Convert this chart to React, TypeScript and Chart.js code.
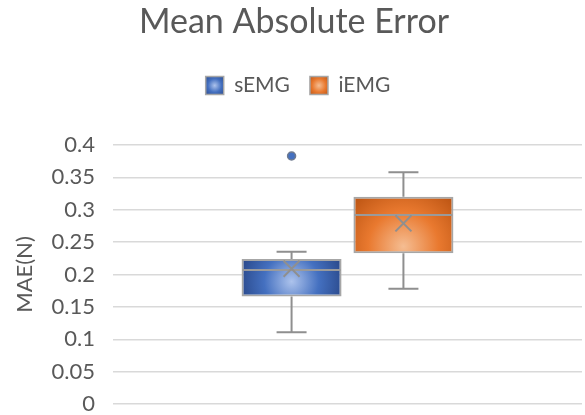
import { useEffect, useRef } from "react";
import { Chart, registerables } from "chart.js";

Chart.register(...registerables);

// Box-and-whisker summary per series
const categories = [""];
const seriesNames = ["sEMG", "iEMG"];
const whiskerLow = [0.111, 0.178];
const quartile1 = [0.166, 0.233];
const medians = [0.207, 0.292];
const quartile3 = [0.224, 0.32];
const whiskerHigh = [0.235, 0.358];
const means = [0.209, 0.279];
const outliers: number[][] = [[0.383], []];

const yTicks = [0, 0.05, 0.1, 0.15, 0.2, 0.25, 0.3, 0.35, 0.4];
const yTickLabels = ["0", "0.05", "0.1", "0.15", "0.2", "0.25", "0.3", "0.35", "0.4"];

const palette = [
  { light: "#adc3ec", mid: "#4470c0", edge: "#284687", focusY: 0.6 },
  { light: "#f5bd92", mid: "#e9792f", edge: "#b95211", focusY: 0.88 },
];

const FONT = "Lato, 'Open Sans', sans-serif";
const TEXT = "#595959";
const GRID = "#d9d9d9";
const LINE = "#8f8f8f";

// where the legend row starts, measured from the top of the canvas
const LEGEND_TOP = 55;

function radial(ctx: CanvasRenderingContext2D, cx: number, cy: number, r: number, p: typeof palette[number]) {
  const g = ctx.createRadialGradient(cx, cy, 0, cx, cy, r);
  g.addColorStop(0, p.light);
  g.addColorStop(0.5, p.mid);
  g.addColorStop(1, p.edge);
  return g;
}

const boxPlotPlugin = {
  id: "boxPlotDetails",
  afterLayout(chart: any) {
    // keep the heading and legend near the top, leaving a gap above the plot
    const legend = chart.legend;
    const title = chart.titleBlock;
    const dy = legend ? legend.top - LEGEND_TOP : 0;
    const move = (box: any, dx: number) => {
      if (!box) return;
      box.left += dx;
      box.right += dx;
      box.top -= dy;
      box.bottom -= dy;
    };
    move(title, 3);
    move(legend, 7);
  },
  beforeDraw(chart: any) {
    const ctx = chart.ctx as CanvasRenderingContext2D;
    // gradient legend swatches
    const legend = chart.legend;
    if (legend && legend.legendItems && legend.legendHitBoxes) {
      const bw = legend.options.labels.boxWidth;
      legend.legendItems.forEach((item: any, i: number) => {
        const hb = legend.legendHitBoxes[i];
        if (!hb) return;
        const cx = hb.left + bw / 2;
        const cy = hb.top + hb.height / 2;
        item.fillStyle = radial(ctx, cx, cy, bw * 0.75, palette[i]);
      });
    }
  },
  beforeDatasetsDraw(chart: any) {
    const ctx = chart.ctx as CanvasRenderingContext2D;
    chart.data.datasets.forEach((_ds: any, i: number) => {
      const meta = chart.getDatasetMeta(i);
      meta.data.forEach((el: any) => {
        const { x, y, base, width } = el.getProps(["x", "y", "base", "width"], true);
        const top = Math.min(y, base);
        const h = Math.abs(base - y);
        const p = palette[i];
        const cy = top + h * p.focusY;
        const r = Math.hypot(width / 2, Math.max(cy - top, top + h - cy));
        el.options = { ...el.options, backgroundColor: radial(ctx, x, cy, r, p) };
      });
    });
  },
  afterDatasetsDraw(chart: any) {
    const ctx = chart.ctx as CanvasRenderingContext2D;
    const ys = chart.scales.y;
    chart.data.datasets.forEach((_ds: any, i: number) => {
      const meta = chart.getDatasetMeta(i);
      meta.data.forEach((el: any) => {
        const { x, width } = el.getProps(["x", "width"], true);
        const cap = width * 0.3;
        const yLo = ys.getPixelForValue(whiskerLow[i]);
        const yQ1 = ys.getPixelForValue(quartile1[i]);
        const yQ3 = ys.getPixelForValue(quartile3[i]);
        const yHi = ys.getPixelForValue(whiskerHigh[i]);
        const yMed = ys.getPixelForValue(medians[i]);
        const yMean = ys.getPixelForValue(means[i]);
        ctx.save();
        ctx.strokeStyle = LINE;
        ctx.lineWidth = 2;
        ctx.beginPath();
        // whiskers and caps
        ctx.moveTo(x, yQ3);
        ctx.lineTo(x, yHi);
        ctx.moveTo(x - cap / 2, yHi);
        ctx.lineTo(x + cap / 2, yHi);
        ctx.moveTo(x, yQ1);
        ctx.lineTo(x, yLo);
        ctx.moveTo(x - cap / 2, yLo);
        ctx.lineTo(x + cap / 2, yLo);
        ctx.stroke();
        // median
        ctx.strokeStyle = "#9a9a9a";
        ctx.beginPath();
        ctx.moveTo(x - width / 2 + 1, yMed);
        ctx.lineTo(x + width / 2 - 1, yMed);
        ctx.stroke();
        // mean marker
        const m = 8;
        ctx.strokeStyle = LINE;
        ctx.beginPath();
        ctx.moveTo(x - m, yMean - m);
        ctx.lineTo(x + m, yMean + m);
        ctx.moveTo(x + m, yMean - m);
        ctx.lineTo(x - m, yMean + m);
        ctx.stroke();
        // outliers
        (outliers[i] || []).forEach((v) => {
          const yo = ys.getPixelForValue(v);
          ctx.beginPath();
          ctx.arc(x, yo, 4, 0, Math.PI * 2);
          ctx.fillStyle = palette[i].mid;
          ctx.fill();
          ctx.lineWidth = 1.5;
          ctx.strokeStyle = "#6f7a8f";
          ctx.stroke();
        });
        ctx.restore();
      });
    });
  },
};

export default function App() {
  const canvasRef = useRef<HTMLCanvasElement | null>(null);

  useEffect(() => {
    document.body.style.margin = "0";
    const canvas = canvasRef.current;
    if (!canvas) return;

    const chart = new Chart(canvas, {
      type: "bar",
      data: {
        labels: categories,
        datasets: seriesNames.map((name, i) => ({
          label: name,
          data: [[quartile1[i], quartile3[i]]] as any,
          backgroundColor: palette[i].mid,
          borderColor: "#a6a6a6",
          borderWidth: 2,
          borderSkipped: false,
          categoryPercentage: 0.477,
          barPercentage: 0.894,
        })),
      },
      options: {
        responsive: false,
        animation: false,
        devicePixelRatio: 1,
        layout: { padding: { left: 0, right: 3, top: 0, bottom: 0 } },
        plugins: {
          tooltip: { enabled: false },
          title: {
            display: true,
            text: "Mean Absolute Error",
            color: TEXT,
            font: { family: FONT, size: 34, weight: "normal" },
            padding: { top: 2, bottom: 13 },
          },
          legend: {
            display: true,
            position: "top",
            labels: {
              boxWidth: 18,
              boxHeight: 18,
              padding: 20,
              color: TEXT,
              font: { family: FONT, size: 21 },
              generateLabels: (chart: any) =>
                chart.data.datasets.map((ds: any, i: number) => ({
                  text: ds.label,
                  fillStyle: palette[i].mid,
                  strokeStyle: "#a6a6a6",
                  lineWidth: 1.5,
                  fontColor: TEXT,
                  datasetIndex: i,
                  hidden: false,
                })),
            },
          },
        },
        scales: {
          x: {
            type: "category",
            grid: {
              offset: true,
              drawTicks: false,
              lineWidth: 1.5,
              color: (c: any) => (c.index === 1 ? GRID : "rgba(0,0,0,0)"),
            },
            border: { display: false },
            ticks: { display: false },
          },
          y: {
            min: 0,
            max: 0.4,
            afterBuildTicks: (scale: any) => {
              scale.ticks = yTicks.map((v) => ({ value: v }));
            },
            afterFit: (scale: any) => {
              scale.width = 113;
              scale.paddingTop = 145;
              scale.paddingBottom = 11;
            },
            grid: { color: GRID, lineWidth: 1.5, drawTicks: false },
            border: { display: false },
            ticks: {
              padding: 18,
              color: TEXT,
              font: { family: FONT, size: 22 },
              callback: (_v: any, idx: number) => yTickLabels[idx],
            },
            title: {
              display: true,
              text: "MAE(N)",
              color: TEXT,
              font: { family: FONT, size: 22 },
              padding: { top: 12, bottom: 0 },
            },
          },
        },
      },
      plugins: [boxPlotPlugin],
    });

    return () => chart.destroy();
  }, []);

  return (
    <div style={{ width: 585, height: 415 }}>
      <canvas ref={canvasRef} width={585} height={415} />
    </div>
  );
}
